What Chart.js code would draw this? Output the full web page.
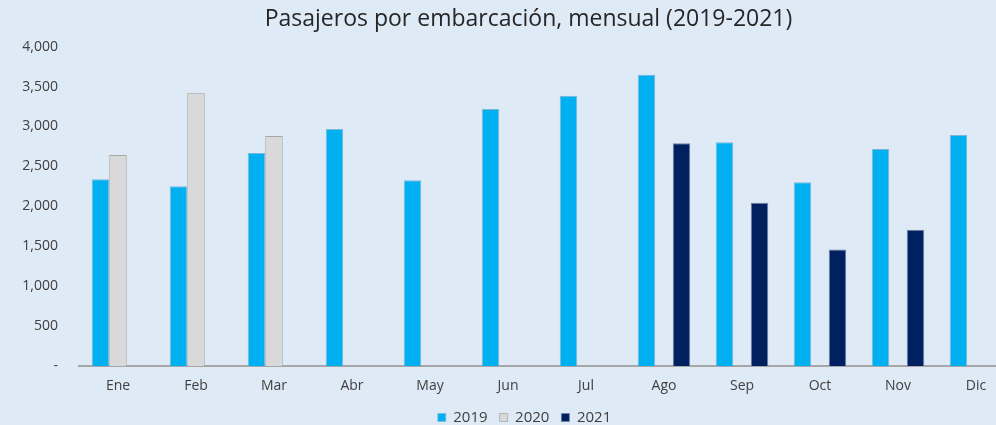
<!DOCTYPE html>
<html><head><meta charset="utf-8">
<script src="https://cdn.jsdelivr.net/npm/chart.js@4"></script>
<style>
html,body{margin:0;padding:0;background:#DEEAF6;overflow:hidden;width:996px;height:425px}
#wrap{width:1056px;height:425px;position:relative}
</style></head>
<body><div id="wrap"><canvas id="c" width="1056" height="425"></canvas></div>
<script>
const categories = ['Ene','Feb','Mar','Abr','May','Jun','Jul','Ago','Sep','Oct','Nov','Dic'];
const series2019 = [2340,2252,2667,2969,2327,3220,3384,3648,2801,2302,2717,2893];
const series2020 = [2642,3421,2881,null,null,null,null,null,null,null,null,null];
const series2021 = [null,null,null,null,null,null,null,2789,2046,1459,1707,null];
const yTicks = [0,500,1000,1500,2000,2500,3000,3500,4000];

const font = "'Open Sans', Lato, sans-serif";
const shiftBlocks = {
  id:'shiftBlocks',
  afterLayout(chart){
    if (chart.titleBlock){ chart.titleBlock.left += 21; chart.titleBlock.right += 21; }
    if (chart.legend){ chart.legend.left += 17; chart.legend.right += 17; }
  }
};
new Chart(document.getElementById('c'), {
  type: 'bar',
  data: {
    labels: categories,
    datasets: [
      {label:'2019', data: series2019, backgroundColor:'#00B0F0', borderColor:'#7FB6D6', borderWidth:{left:1,right:1,top:1,bottom:0}},
      {label:'2020', data: series2020, backgroundColor:'#D9D9D9', borderColor:'#A6A6A6', borderWidth:{left:1,right:1,top:1,bottom:0}},
      {label:'2021', data: series2021, backgroundColor:'#002060', borderColor:'#6F7FA0', borderWidth:{left:1,right:1,top:1,bottom:0}}
    ]
  },
  plugins:[shiftBlocks],
  options: {
    responsive:false, animation:false,
    layout:{padding:{left:0,right:41,top:6,bottom:-10}},
    datasets:{bar:{categoryPercentage:0.673, barPercentage:1}},
    plugins:{
      title:{display:true,text:'Pasajeros por embarcación, mensual (2019-2021)',color:'#262626',font:{family:font,size:23,weight:'normal'},padding:{top:0,bottom:13}},
      legend:{position:'bottom',labels:{color:'#404040',font:{family:font,size:15},usePointStyle:true,pointStyle:'rect',boxWidth:8,boxHeight:8,padding:12}},
      tooltip:{enabled:false}
    },
    scales:{
      x:{
        grid:{display:false,drawTicks:false},
        border:{display:true,color:'#A6A6A6',width:2},
        afterFit:(s)=>{s.height=32;},
        ticks:{color:'#404040',font:{family:font,size:14},padding:12}
      },
      y:{
        min:0,max:4000,
        afterBuildTicks:(s)=>{s.ticks = yTicks.map(v=>({value:v}));},
        afterFit:(s)=>{s.width=79;},
        grid:{display:false,drawTicks:false},
        border:{display:false},
        ticks:{color:'#404040',font:{family:font,size:14},padding:21,
          callback:(v)=> v===0 ? '-' : v.toLocaleString('en-US')}
      }
    }
  }
});
</script></body></html>
